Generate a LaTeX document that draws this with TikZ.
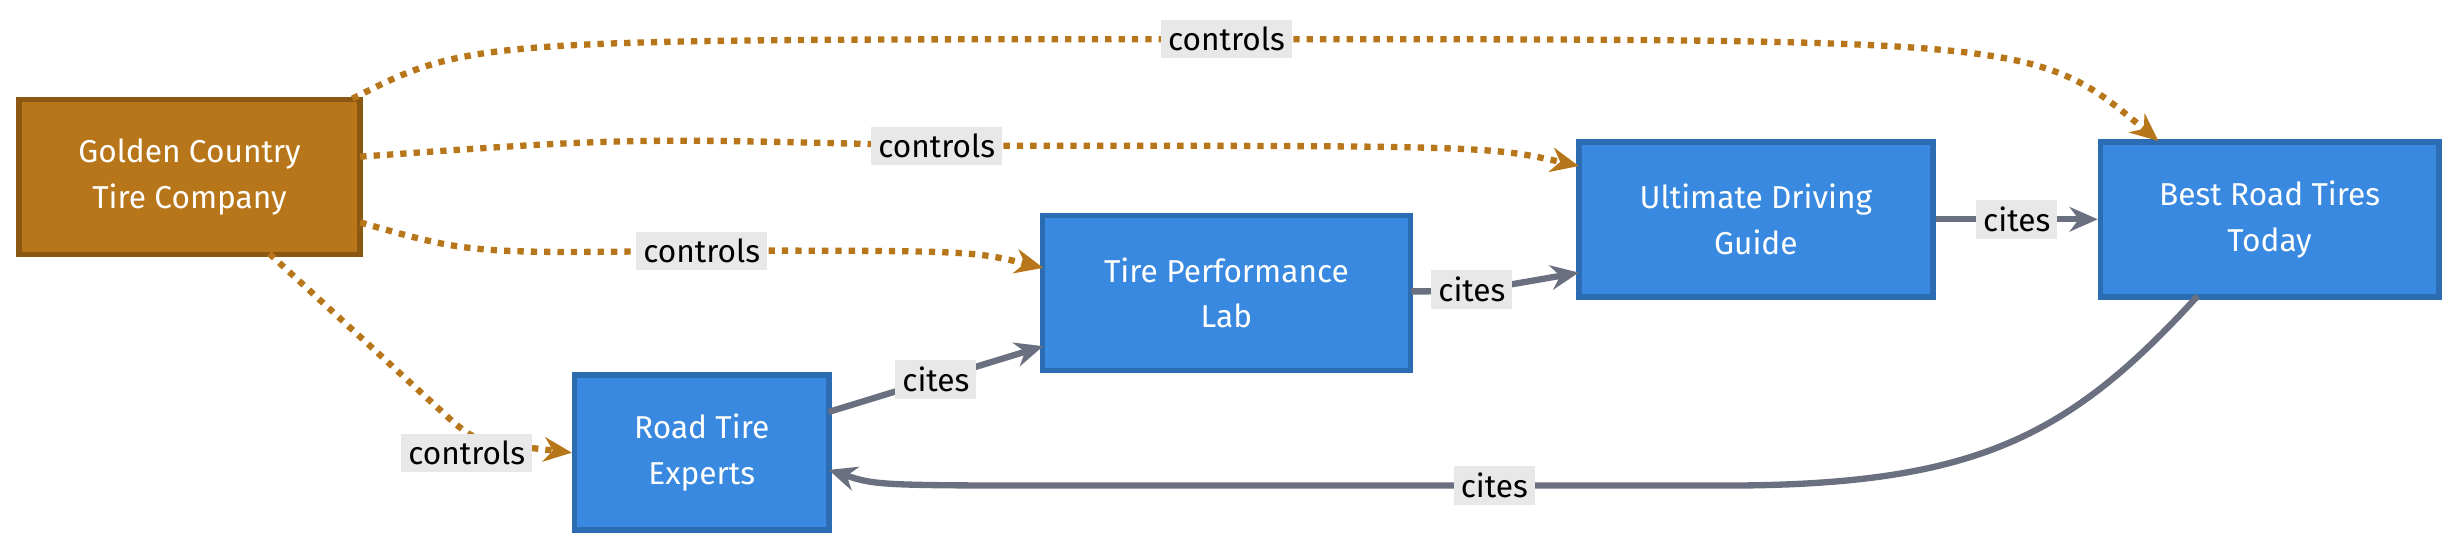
\documentclass[tikz,border=0pt]{standalone}
\usepackage{fontspec}
\setmainfont{Fira Sans}
\usetikzlibrary{arrows.meta,positioning}
\definecolor{ownfill}{HTML}{B8761A}
\definecolor{ownline}{HTML}{8A5812}
\definecolor{sitefill}{HTML}{3889DF}
\definecolor{siteline}{HTML}{2B6CB3}
\definecolor{citeline}{HTML}{6B7080}
\definecolor{lblbg}{HTML}{E8E8E8}
\begin{document}
\begin{tikzpicture}[x=0.01566cm, y=-0.01566cm, >={Stealth[length=8pt,width=7pt]},
  every node/.style={font=\fontsize{9}{13}\selectfont},
  owner/.style={draw=ownline, line width=1.6pt, fill=ownfill, text=white, align=center, minimum width=3.41cm, minimum height=1.55cm},
  site/.style={draw=siteline, line width=1.6pt, fill=sitefill, text=white, align=center, minimum height=1.55cm},
  ctrl/.style={->, draw=ownfill, line width=1.8pt, dotted},
  cite/.style={->, draw=citeline, line width=1.8pt},
  lbl/.style={fill=lblbg, inner sep=2pt, text=black}]
  \useasboundingbox (0,0) rectangle (1568,349);

  \node[owner] (gc) at (121,113) {Golden Country\\Tire Company};
  \node[site, minimum width=2.54cm] (rte) at (448,289) {Road Tire\\Experts};
  \node[site, minimum width=3.68cm] (tpl) at (783,187) {Tire Performance\\Lab};
  \node[site, minimum width=3.54cm] (udg) at (1121,140) {Ultimate Driving\\Guide};
  \node[site, minimum width=3.38cm] (brt) at (1449,140) {Best Road Tires\\Today};

  \coordinate (gcA) at (225,63);
  \coordinate (gcB) at (230,100);
  \coordinate (gcC) at (230,142);
  \coordinate (gcD) at (172,162);
  \coordinate (brtIn) at (1378,90);
  \coordinate (udgIn) at (1008,106);
  \coordinate (tplIn) at (666,171);
  \coordinate (rteOut) at (529,263);
  \coordinate (tplIn2) at (666,221);
  \coordinate (tplOut) at (901,186);
  \coordinate (udgIn2) at (1008,174);
  \coordinate (brtOut) at (1403,189);
  \coordinate (rteIn) at (529,300);

  % ownership links
  \draw[ctrl] (gcA) .. controls (300,25) .. (783,25) node[lbl] {controls}
    (783,25) .. controls (1300,25) .. (brtIn);
  \draw[ctrl] (gcB) .. controls (400,88) .. (598,93) node[lbl] {controls}
    (598,93) .. controls (950,93) .. (udgIn);
  \draw[ctrl] (gcC) .. controls (300,162) .. (448,160) node[lbl] {controls}
    (448,160) .. controls (620,160) .. (tplIn);
  \draw[ctrl] (gcD) -- (290,270) .. controls (305,282) .. (rte.west);
  \node[lbl] at (298,289) {controls};

  % citation links
  \draw[cite] (rteOut) -- (tplIn2) node[midway, lbl] {cites};
  \draw[cite] (tplOut) .. controls (940,186) .. (udgIn2) node[pos=0.45, lbl] {cites};
  \draw[cite] (udg) -- (brt) node[midway, lbl] {cites};
  \draw[cite] (brtOut) .. controls (1320,280) and (1260,310) .. (1100,310)
    -- (954,310) node[lbl] {cites} -- (700,310) .. controls (560,310) .. (rteIn);
\end{tikzpicture}
\end{document}
